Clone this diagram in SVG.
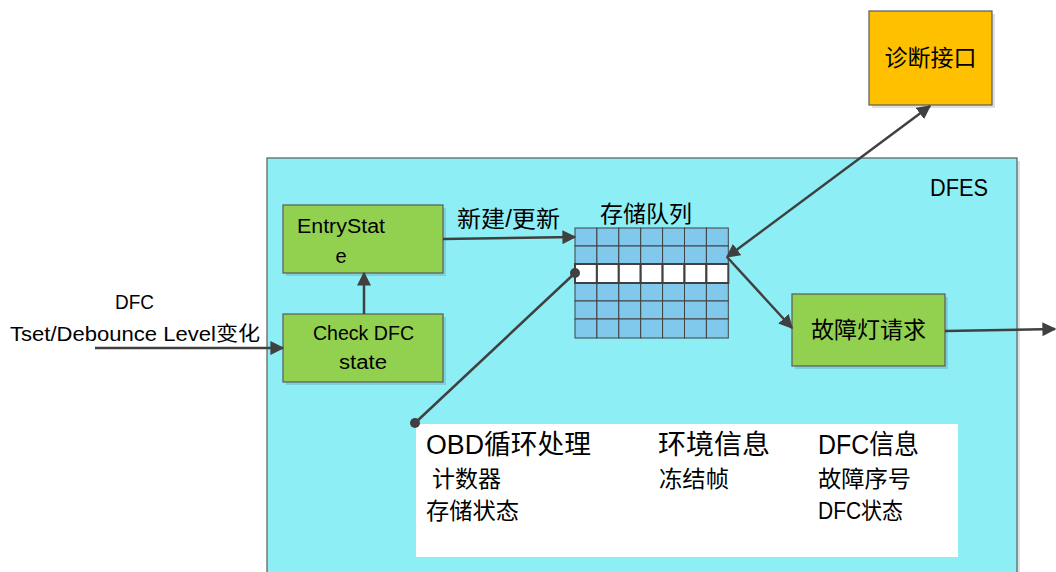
<svg xmlns="http://www.w3.org/2000/svg" width="1056" height="572" viewBox="0 0 1056 572">
<defs>
<marker id="arr" viewBox="0 0 10 10" refX="9" refY="5" markerWidth="14" markerHeight="14" markerUnits="userSpaceOnUse" orient="auto-start-reverse"><path d="M0,0 L10,5 L0,10 Z" fill="#404040"/></marker>
<marker id="dot" viewBox="0 0 10 10" refX="5" refY="5" markerWidth="10" markerHeight="10" markerUnits="userSpaceOnUse"><circle cx="5" cy="5" r="5" fill="#404040"/></marker>
</defs>
<style>
.t{font-family:"Liberation Sans","Noto Sans CJK SC",sans-serif;fill:#000}
.box{stroke:#5a5a5a;stroke-width:1.2}
.shadow{fill:#000;opacity:0.12}
.green{fill:#92D050}
.cell{fill:#80C9EC;stroke:#404040;stroke-width:1}
.wcell{fill:#fff;stroke:#404040;stroke-width:2}
.ln{stroke:#404040;stroke-width:2.5;fill:none}
</style>
<rect width="1056" height="572" fill="#fff"/>
<g id="dfes">
<rect x="270" y="161" width="750" height="420" class="shadow"/>
<rect x="267" y="158" width="750" height="420" fill="#8DEEF5" class="box"/>
<text x="930" y="196" class="t" font-size="24" textLength="58" lengthAdjust="spacingAndGlyphs">DFES</text>
</g>
<g id="diag">
<rect x="872" y="14" width="123" height="94" class="shadow"/>
<rect x="869" y="11" width="123" height="94" fill="#FFC000" class="box"/>
<text x="930.5" y="66" class="t" font-size="23" text-anchor="middle" fill="#222">诊断接口</text>
</g>
<g id="entry">
<rect x="286" y="208" width="160" height="68" class="shadow"/>
<rect x="283" y="205" width="160" height="68" class="green box"/>
<text x="297" y="233" class="t" font-size="20" textLength="88" lengthAdjust="spacingAndGlyphs">EntryStat</text>
<text x="341" y="263" class="t" font-size="20" text-anchor="middle">e</text>
</g>
<g id="check">
<rect x="286" y="317" width="160" height="68" class="shadow"/>
<rect x="283" y="314" width="160" height="68" class="green box"/>
<text x="313" y="340" class="t" font-size="20" textLength="101" lengthAdjust="spacingAndGlyphs">Check DFC</text>
<text x="339" y="369" class="t" font-size="20" textLength="48" lengthAdjust="spacingAndGlyphs">state</text>
</g>
<g id="lamp">
<rect x="795" y="297" width="153" height="72" class="shadow"/>
<rect x="792" y="294" width="153" height="72" class="green box"/>
<text x="868.5" y="338" class="t" font-size="23" text-anchor="middle" fill="#222">故障灯请求</text>
</g>
<g id="queue">
<text x="646" y="222" class="t" font-size="23" text-anchor="middle" fill="#222">存储队列</text>
<g>
<rect x="575" y="228" width="21.9" height="18" class="cell"/><rect x="596.9" y="228" width="21.9" height="18" class="cell"/><rect x="618.8" y="228" width="21.9" height="18" class="cell"/><rect x="640.7" y="228" width="21.9" height="18" class="cell"/><rect x="662.6" y="228" width="21.9" height="18" class="cell"/><rect x="684.5" y="228" width="21.9" height="18" class="cell"/><rect x="706.4" y="228" width="21.9" height="18" class="cell"/>
<rect x="575" y="246" width="21.9" height="18" class="cell"/><rect x="596.9" y="246" width="21.9" height="18" class="cell"/><rect x="618.8" y="246" width="21.9" height="18" class="cell"/><rect x="640.7" y="246" width="21.9" height="18" class="cell"/><rect x="662.6" y="246" width="21.9" height="18" class="cell"/><rect x="684.5" y="246" width="21.9" height="18" class="cell"/><rect x="706.4" y="246" width="21.9" height="18" class="cell"/>
<rect x="575" y="283" width="21.9" height="18" class="cell"/><rect x="596.9" y="283" width="21.9" height="18" class="cell"/><rect x="618.8" y="283" width="21.9" height="18" class="cell"/><rect x="640.7" y="283" width="21.9" height="18" class="cell"/><rect x="662.6" y="283" width="21.9" height="18" class="cell"/><rect x="684.5" y="283" width="21.9" height="18" class="cell"/><rect x="706.4" y="283" width="21.9" height="18" class="cell"/>
<rect x="575" y="301" width="21.9" height="18" class="cell"/><rect x="596.9" y="301" width="21.9" height="18" class="cell"/><rect x="618.8" y="301" width="21.9" height="18" class="cell"/><rect x="640.7" y="301" width="21.9" height="18" class="cell"/><rect x="662.6" y="301" width="21.9" height="18" class="cell"/><rect x="684.5" y="301" width="21.9" height="18" class="cell"/><rect x="706.4" y="301" width="21.9" height="18" class="cell"/>
<rect x="575" y="319" width="21.9" height="19" class="cell"/><rect x="596.9" y="319" width="21.9" height="19" class="cell"/><rect x="618.8" y="319" width="21.9" height="19" class="cell"/><rect x="640.7" y="319" width="21.9" height="19" class="cell"/><rect x="662.6" y="319" width="21.9" height="19" class="cell"/><rect x="684.5" y="319" width="21.9" height="19" class="cell"/><rect x="706.4" y="319" width="21.9" height="19" class="cell"/>
<rect x="575" y="264" width="21.9" height="19" class="wcell"/><rect x="596.9" y="264" width="21.9" height="19" class="wcell"/><rect x="618.8" y="264" width="21.9" height="19" class="wcell"/><rect x="640.7" y="264" width="21.9" height="19" class="wcell"/><rect x="662.6" y="264" width="21.9" height="19" class="wcell"/><rect x="684.5" y="264" width="21.9" height="19" class="wcell"/><rect x="706.4" y="264" width="21.9" height="19" class="wcell"/>
</g>
</g>
<g id="info">
<rect x="416" y="424" width="542" height="133" fill="#fff"/>
<g class="t">
<text x="426" y="454" font-size="27" textLength="165" lengthAdjust="spacingAndGlyphs">OBD循环处理</text>
<text x="658" y="454" font-size="27" textLength="112" lengthAdjust="spacingAndGlyphs">环境信息</text>
<text x="818" y="454" font-size="27" textLength="101" lengthAdjust="spacingAndGlyphs">DFC信息</text>
<text x="432" y="487" font-size="23" textLength="69" lengthAdjust="spacingAndGlyphs">计数器</text>
<text x="659" y="487" font-size="23" textLength="70" lengthAdjust="spacingAndGlyphs">冻结帧</text>
<text x="818" y="487" font-size="23" textLength="93" lengthAdjust="spacingAndGlyphs">故障序号</text>
<text x="426" y="519" font-size="23" textLength="93" lengthAdjust="spacingAndGlyphs">存储状态</text>
<text x="818" y="519" font-size="23" textLength="85" lengthAdjust="spacingAndGlyphs">DFC状态</text>
</g>
</g>
<g id="input">
<text x="115" y="309" class="t" font-size="20" textLength="39" lengthAdjust="spacingAndGlyphs">DFC</text>
<text x="10" y="341" class="t" font-size="20" textLength="250" lengthAdjust="spacingAndGlyphs">Tset/Debounce Level变化</text>
</g>
<g id="connectors">
<line x1="95" y1="348" x2="283" y2="348" class="ln" marker-end="url(#arr)"/>
<line x1="364" y1="314" x2="364" y2="273" class="ln" marker-end="url(#arr)"/>
<line x1="443" y1="239" x2="575" y2="237" class="ln" marker-end="url(#arr)"/>
<text x="457" y="227" class="t" font-size="23" fill="#222" textLength="103" lengthAdjust="spacingAndGlyphs">新建/更新</text>
<line x1="415" y1="423" x2="575" y2="273" class="ln" stroke-width="2" marker-start="url(#dot)" marker-end="url(#dot)"/>
<line x1="727" y1="257" x2="930" y2="106" class="ln" marker-start="url(#arr)" marker-end="url(#arr)"/>
<line x1="727" y1="257" x2="792" y2="328" class="ln" marker-end="url(#arr)"/>
<line x1="945" y1="331" x2="1055" y2="329" class="ln" marker-end="url(#arr)"/>
</g>
</svg>
